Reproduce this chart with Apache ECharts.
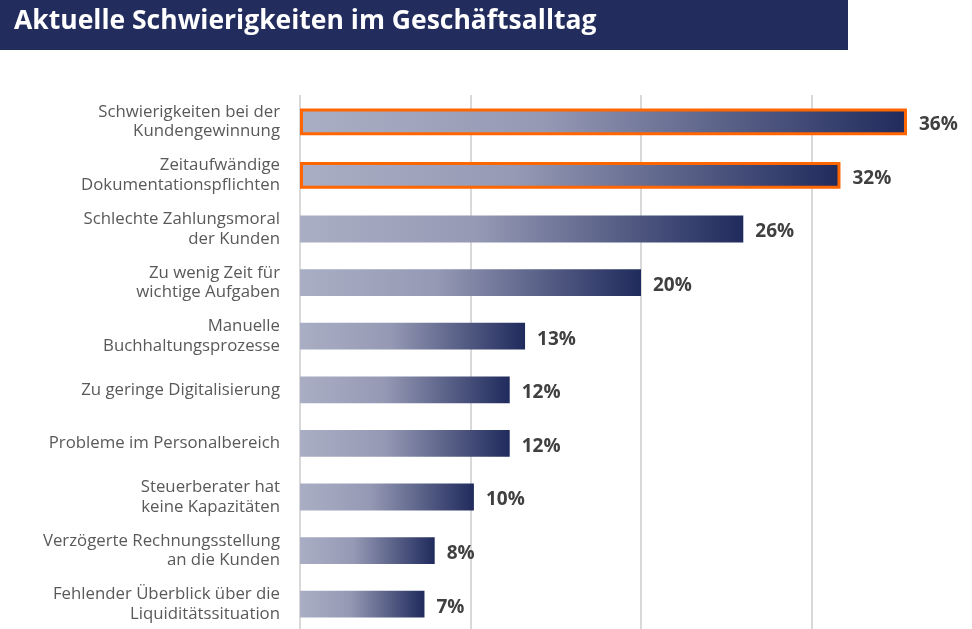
<!DOCTYPE html>
<html>
<head>
<meta charset="utf-8">
<script src="https://cdn.jsdelivr.net/npm/echarts@6/dist/echarts.min.js"></script>
<style>
  html, body { margin: 0; padding: 0; background: #fff; }
  #chart { width: 972px; height: 629px; }
</style>
</head>
<body>
<div id="chart"></div>
<script>
var categories = [
  'Schwierigkeiten bei der\nKundengewinnung',
  'Zeitaufwändige\nDokumentationspflichten',
  'Schlechte Zahlungsmoral\nder Kunden',
  'Zu wenig Zeit für\nwichtige Aufgaben',
  'Manuelle\nBuchhaltungsprozesse',
  'Zu geringe Digitalisierung',
  'Probleme im Personalbereich',
  'Steuerberater hat\nkeine Kapazitäten',
  'Verzögerte Rechnungsstellung\nan die Kunden',
  'Fehlender Überblick über die\nLiquiditätssituation'
];
var values = [35.6, 31.7, 26.0, 20.0, 13.2, 12.3, 12.3, 10.2, 7.9, 7.3];
var valueLabels = ['36%', '32%', '26%', '20%', '13%', '12%', '12%', '10%', '8%', '7%'];
var highlighted = [true, true, false, false, false, false, false, false, false, false];

var chart = echarts.init(document.getElementById('chart'));

var barGradient = new echarts.graphic.LinearGradient(0, 0, 1, 0, [
  { offset: 0, color: '#aaaec4' },
  { offset: 0.4, color: '#9599b4' },
  { offset: 1, color: '#202b5d' }
]);

var data = values.map(function (v, i) {
  var item = { value: v, itemStyle: { color: barGradient } };
  if (highlighted[i]) {
    item.itemStyle.borderColor = '#ff6600';
    item.itemStyle.borderWidth = 3;
  }
  return item;
});

var option = {
  animation: false,
  graphic: [
    {
      type: 'rect',
      left: 0, top: 0,
      shape: { width: 848, height: 50 },
      style: { fill: '#222d5e' }
    },
    {
      type: 'text',
      left: 14, top: 8,
      style: {
        text: 'Aktuelle Schwierigkeiten im Geschäftsalltag',
        fill: '#fff',
        font: 'bold 26.5px "Open Sans", "Noto Sans", sans-serif'
      }
    }
  ],
  grid: { left: 300, top: 95, width: 682, height: 536, outerBoundsMode: 'none', containLabel: false },
  xAxis: {
    type: 'value',
    min: 0, max: 40, interval: 10,
    axisLabel: { show: false },
    axisLine: { show: false },
    axisTick: { show: false },
    splitLine: { lineStyle: { color: '#d9d9d9', width: 2 } }
  },
  yAxis: {
    type: 'category',
    inverse: true,
    data: categories,
    axisLine: { show: false },
    axisTick: { show: false },
    axisLabel: {
      margin: 20,
      color: '#595959',
      fontSize: 16.8,
      lineHeight: 19.5,
      fontFamily: '"Open Sans", "Noto Sans", sans-serif'
    }
  },
  series: [{
    type: 'bar',
    data: data,
    barWidth: '50%',
    label: {
      show: true,
      position: 'right',
      distance: 12,
      offset: [0, 3],
      color: '#404040',
      fontSize: 19,
      fontWeight: 'bold',
      fontFamily: '"Open Sans", "Noto Sans", sans-serif',
      formatter: function (p) { return valueLabels[p.dataIndex]; }
    }
  }]
};
chart.setOption(option);
</script>
</body>
</html>
